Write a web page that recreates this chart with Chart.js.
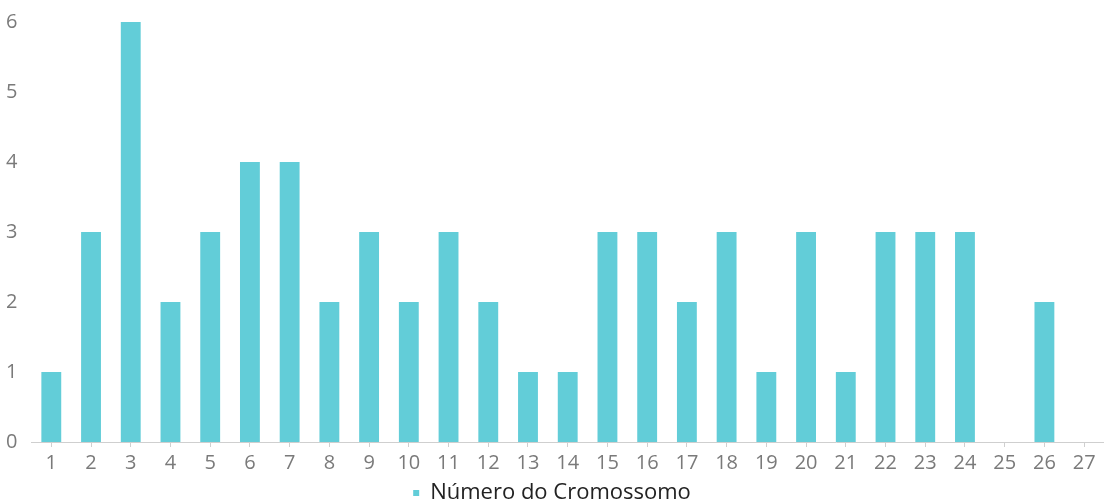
<!DOCTYPE html>
<html><head><meta charset="utf-8">
<script src="https://cdn.jsdelivr.net/npm/chart.js@4"></script>
<style>html,body{margin:0;padding:0;background:#fff;}#wrap{width:1104px;height:502px;}</style>
</head><body><div id="wrap"><canvas id="c" width="1104" height="502"></canvas></div>
<script>
const categories = ["1","2","3","4","5","6","7","8","9","10","11","12","13","14","15","16","17","18","19","20","21","22","23","24","25","26","27"];
const seriesName = "Número do Cromossomo";
const values = [1,3,6,2,3,4,4,2,3,2,3,2,1,1,3,3,2,3,1,3,1,3,3,3,0,2,0];
const yTicks = [0,1,2,3,4,5,6];

const FONT = "'Open Sans', Lato, sans-serif";
new Chart(document.getElementById('c'), {
  type: 'bar',
  data: { labels: categories, datasets: [{ label: seriesName, data: values, backgroundColor: '#62cdd8', borderWidth: 0, categoryPercentage: 1, barPercentage: 0.5 }] },
  options: {
    responsive: false, animation: false,
    layout: { padding: { left: 0, right: 0, top: 22, bottom: -12 } },
    plugins: {
      legend: { position: 'bottom', labels: { boxWidth: 6, boxHeight: 6, padding: 6, color: '#222', font: { family: FONT, size: 22 } } },
      tooltip: { enabled: false }
    },
    scales: {
      x: {
        afterFit: (s) => { s.height -= 3; },
        grid: { display: true, drawOnChartArea: false, offset: false, tickLength: 5, color: '#cfcfcf' },
        border: { color: '#cfcfcf', width: 1 },
        ticks: { color: '#7a7a7a', font: { family: FONT, size: 20 }, padding: 4, maxRotation: 0, autoSkip: false }
      },
      y: {
        min: 0, max: 6,
        grid: { display: false },
        border: { display: false },
        afterBuildTicks: (ax) => { ax.ticks = yTicks.map(v => ({ value: v })); },
        ticks: { color: '#7a7a7a', font: { family: FONT, size: 20 }, padding: 6 }
      }
    }
  }
});
</script></body></html>
